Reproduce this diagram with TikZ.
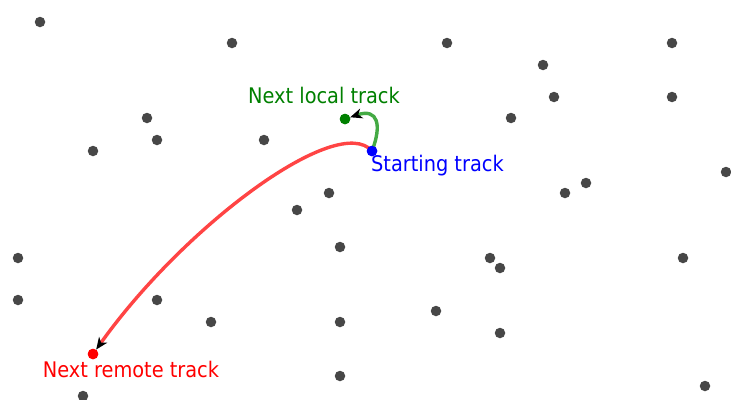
\documentclass[tikz,border=0pt]{standalone}
\usepackage{fontspec}
\setmainfont{DejaVu Sans Condensed}
\usetikzlibrary{arrows.meta}
\definecolor{dotgray}{HTML}{474747}
\definecolor{lblgreen}{HTML}{008000}
\definecolor{linegreen}{HTML}{44AA44}
\definecolor{linered}{HTML}{FF4444}
\tikzset{
  dot/.style={circle, fill=dotgray, inner sep=0pt, minimum size=10.5pt},
  cdot/.style={circle, fill=#1, inner sep=0pt, minimum size=10.5pt},
  lbl/.style={inner sep=0pt, font=\fontsize{21.5}{24}\selectfont},
  track/.style={line width=3.4pt, -{Stealth[length=12pt,width=10pt,inset=3.5pt,color=black]}},
}
\begin{document}
\begin{tikzpicture}[x=1pt,y=-1pt]
\useasboundingbox (0,0) rectangle (731,399);
\foreach \p [count=\i] in {(40,22),(232,43),(447,43),(672,43),(543,65),(554,97),(672,97),(147,118),(511,118),(93,151),(157,140),(264,140),(726,172),(586,183),(565,193),(329,193),(297,210),(340,247),(18,258),(490,258),(500,268),(683,258),(18,300),(157,300),(436,311),(211,322),(340,322),(500,333),(340,376),(83,396),(705,386)}
  \node[dot] (d\i) at \p {};
\node[cdot=blue] (start) at (372,151) {};
\node[cdot=lblgreen] (local) at (345,119) {};
\node[cdot=red] (remote) at (93,354) {};
\node[lbl, text=lblgreen] (locallbl) at (324,95) {Next local track};
\node[lbl, text=blue, anchor=west] (startlbl) at (371,166) {Starting track};
\node[lbl, text=red] (remotelbl) at (131,369) {Next remote track};
\draw[track, draw=linered] (start.center) .. controls (338,112) and (185,225) .. (remote);
\draw[track, draw=linegreen] (start.center) .. controls (382,125) and (378,108) .. (local);
\node[cdot=blue] at (start) {};
\node[cdot=lblgreen] at (local) {};
\node[cdot=red] at (remote) {};
\end{tikzpicture}
\end{document}
